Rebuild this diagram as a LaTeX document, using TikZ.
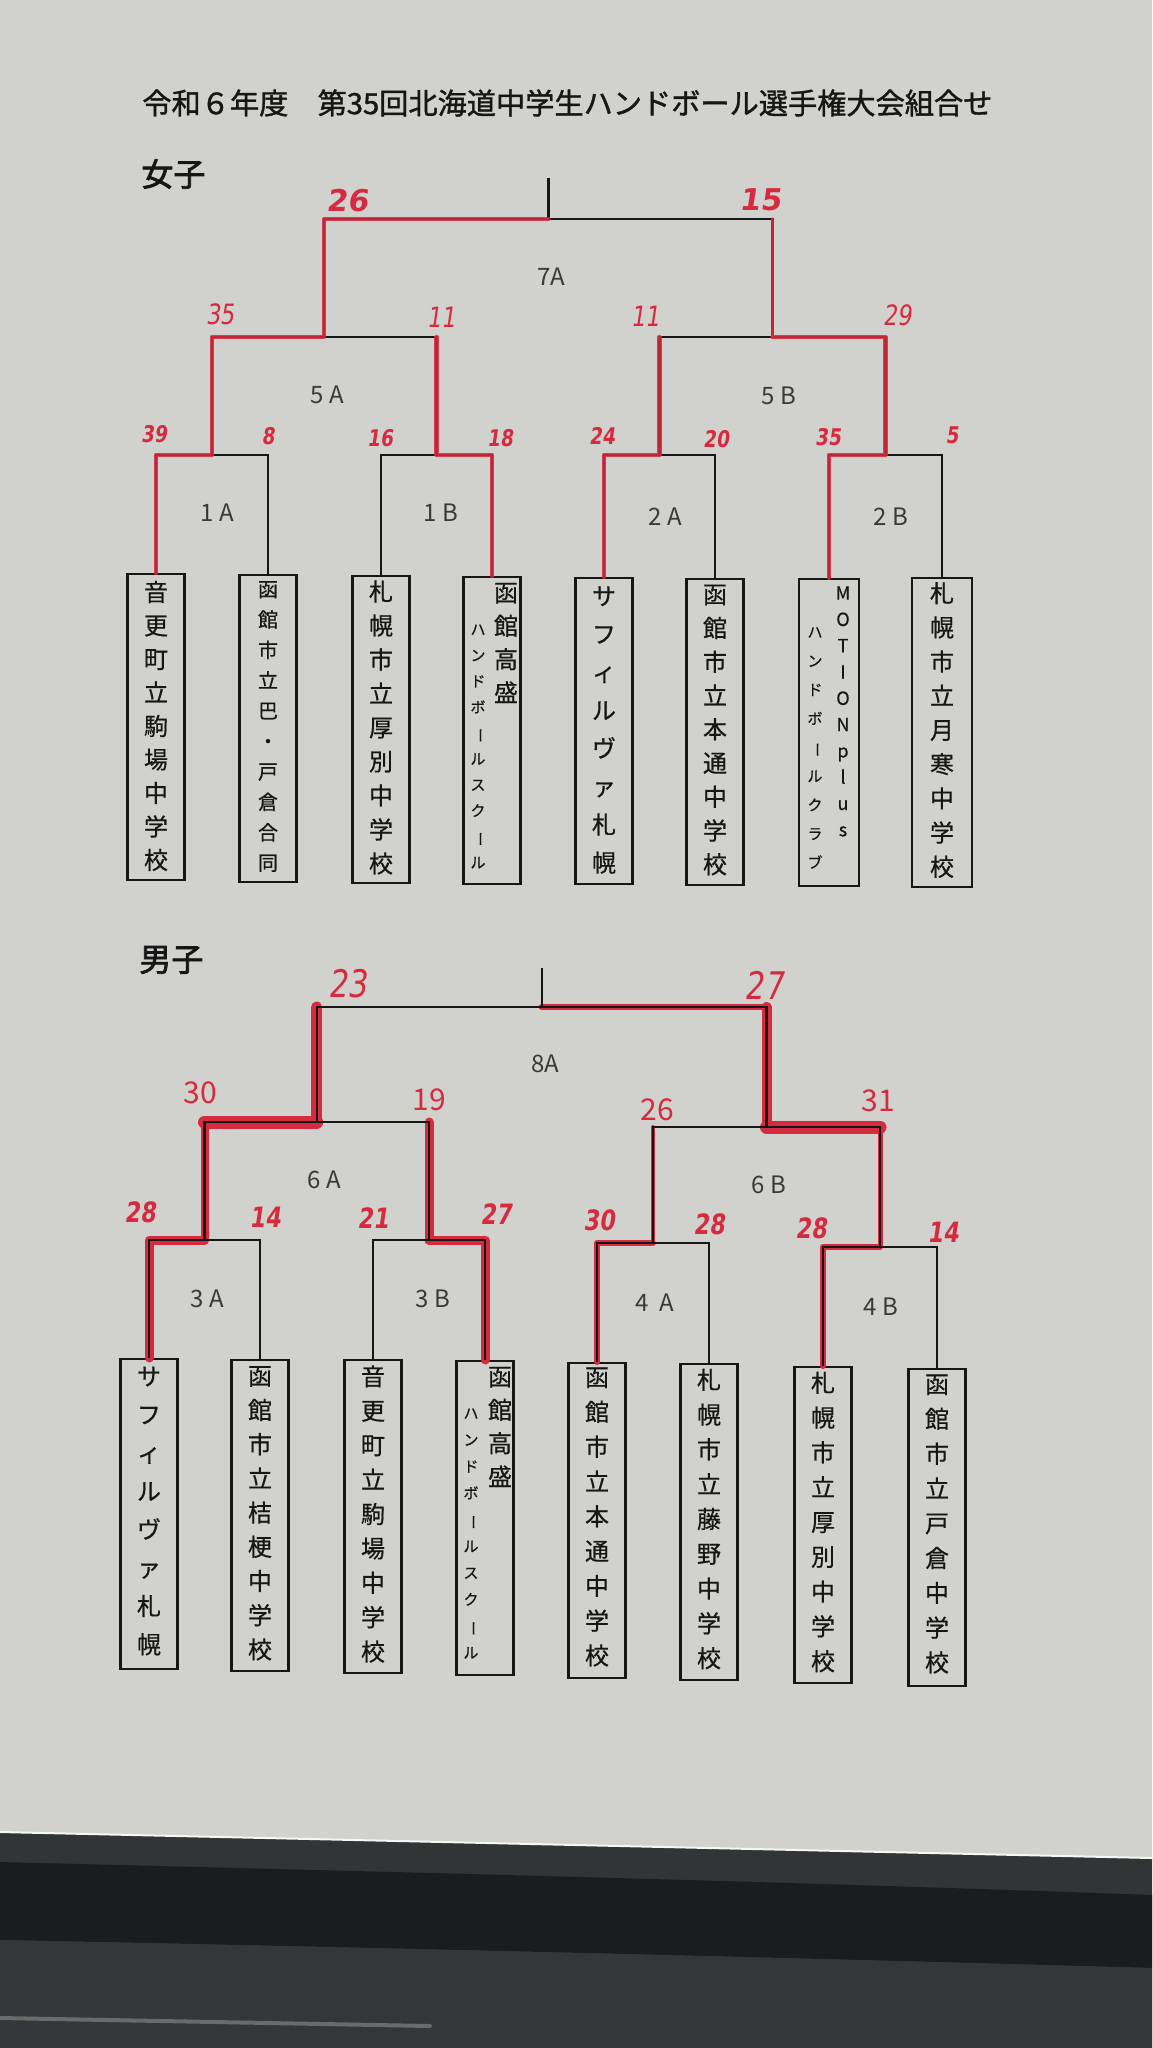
\documentclass[tikz,border=0pt]{standalone}
\usepackage{fontspec}
\usepackage{graphicx}
\newfontfamily\jp{Noto Sans CJK JP}
\newfontfamily\jpm[FakeBold=1.3]{Noto Sans CJK JP}
\newfontfamily\jpb[FakeBold=2.2]{Noto Sans CJK JP}
\newfontfamily\jpt[FakeBold=0.6]{Noto Sans CJK JP}
\newfontfamily\hand[FakeSlant=0.15]{DejaVu Sans}
\newfontfamily\handn[FakeSlant=0.15,FakeStretch=0.8]{DejaVu Sans}
\newcommand{\chonp}{\rotatebox[origin=c]{-90}{ー}}
\definecolor{paper}{RGB}{209,209,206}
\definecolor{pen}{RGB}{214,42,62}
\definecolor{ink}{RGB}{22,22,22}
\definecolor{bandA}{RGB}{50,53,53}
\definecolor{bandB}{RGB}{26,28,29}
\definecolor{bandC}{RGB}{52,55,57}
\tikzset{
  bline/.style={draw=ink, line width=1.1pt},
  redw/.style={draw=pen, line width=2.1pt, line cap=round, line join=round},
  teambox/.style={draw=ink, line width=1.2pt, minimum width=28.5pt, inner sep=0pt, anchor=north},
  vt/.style 2 args={font={\jpt\fontsize{#1}{#2}\selectfont}, align=center, inner sep=0pt, text=ink},
  mlbl/.style={font={\jp\fontsize{12pt}{14pt}\selectfont}, text=ink!85, inner sep=0pt},
  scwt/.style={font={\hand\bfseries\fontsize{15pt}{17pt}\selectfont}, text=pen, inner sep=0pt},
  scwm/.style={font={\handn\fontsize{14pt}{16pt}\selectfont}, text=pen, inner sep=0pt},
  scwb/.style={font={\handn\bfseries\fontsize{11.5pt}{13pt}\selectfont}, text=pen, inner sep=0pt},
  scmt/.style={font={\handn\fontsize{19pt}{21pt}\selectfont}, text=pen, inner sep=0pt},
  scmm/.style={font={\jp\fontsize{15pt}{17pt}\selectfont}, text=pen, inner sep=0pt},
  scmb/.style={font={\handn\bfseries\fontsize{14pt}{16pt}\selectfont}, text=pen, inner sep=0pt},
}
\begin{document}
\begin{tikzpicture}[x=0.5pt,y=-0.5pt]
\useasboundingbox (0,0) rectangle (1152,2048);
% background
\fill[paper] (0,0) rectangle (1152,2048);
\fill[bandA] (0,1832) -- (1152,1858) -- (1152,2048) -- (0,2048) -- cycle;
\fill[bandB] (0,1862) .. controls (400,1872) and (800,1882) .. (1152,1895) -- (1152,1968) .. controls (800,1958) and (400,1948) .. (0,1940) -- cycle;
\fill[bandC] (0,1940) .. controls (400,1948) and (800,1958) .. (1152,1968) -- (1152,2048) -- (0,2048) -- cycle;
\draw[white!80!paper, line width=1pt] (0,1832) -- (1152,1858);
\draw[gray!70!bandC, line width=2pt, line cap=round] (0,2018) -- (430,2026);

% headings
\node[anchor=west, inner sep=0pt, font={\jpm\fontsize{14.6pt}{17pt}\selectfont}, text=ink] (title) at (142,103) {令和６年度　第35回北海道中学生ハンドボール選手権大会組合せ};
\node[anchor=west, inner sep=0pt, font={\jpb\fontsize{16pt}{20pt}\selectfont}, text=ink] (wg) at (141,174) {女子};
\node[anchor=west, inner sep=0pt, font={\jpb\fontsize{16pt}{20pt}\selectfont}, text=ink] (mg) at (139,960) {男子};

% ================= women =================
\node[teambox, minimum height=153pt] (w1) at (156,573) {};
\node[teambox, minimum height=153.5pt] (w2) at (268,574) {};
\node[teambox, minimum height=153.5pt] (w3) at (381,575) {};
\node[teambox, minimum height=153.5pt] (w4) at (492,576) {};
\node[teambox, minimum height=153pt] (w5) at (604,577) {};
\node[teambox, minimum height=153pt] (w6) at (715,578) {};
\node[teambox, minimum height=153.5pt, minimum width=30pt] (w7) at (829,578) {};
\node[teambox, minimum height=154.5pt, minimum width=30pt] (w8) at (942,577) {};

\node[vt={12pt}{16.75pt}] (w1t) at (156,726) {音\\更\\町\\立\\駒\\場\\中\\学\\校};
\node[vt={10pt}{15.2pt}] (w2t) at (268,726.5) {函\\館\\市\\立\\巴\\・\\戸\\倉\\合\\同};
\node[vt={12pt}{17pt}] (w3t) at (381,727.5) {札\\幌\\市\\立\\厚\\別\\中\\学\\校};
\node[vt={12pt}{16.67pt}] (w4ta) at (506,643) {函\\館\\高\\盛};
\node[vt={7.5pt}{12.95pt}] (w4tb) at (478,746.5) {ハ\\ン\\ド\\ボ\\\chonp\\ル\\ス\\ク\\\chonp\\ル};
\node[vt={12pt}{19.05pt}] (w5t) at (604,730) {サ\\フ\\ィ\\ル\\ヴ\\ァ\\札\\幌};
\node[vt={12pt}{16.875pt}] (w6t) at (715,730) {函\\館\\市\\立\\本\\通\\中\\学\\校};
\node[vt={9pt}{13.15pt}] (w7ta) at (843,711.5) {M\\O\\T\\I\\O\\N\\p\\l\\u\\s};
\node[vt={7.5pt}{14.4pt}] (w7tb) at (815,748) {ハ\\ン\\ド\\ボ\\\chonp\\ル\\ク\\ラ\\ブ};
\node[vt={12pt}{17.1pt}] (w8t) at (942,730) {札\\幌\\市\\立\\月\\寒\\中\\学\\校};

\coordinate (w1A) at (212,455);
\coordinate (w1B) at (436.5,455);
\coordinate (w2A) at (659.5,455);
\coordinate (w2B) at (885.5,455);
\coordinate (w5A) at (324.25,337);
\coordinate (w5B) at (772.5,337);
\coordinate (w7A) at (548.4,219);
\coordinate (wtop) at (548.4,178);

% black bracket (women)
\draw[bline] (w1.north) |- (w1A) -| (w2.north);
\draw[bline] (w3.north) |- (w1B) -| (w4.north);
\draw[bline] (w5.north) |- (w2A) -| (w6.north);
\draw[bline] (w7.north) |- (w2B) -| (w8.north);
\draw[bline] (w1A) |- (w5A) -| (w1B);
\draw[bline] (w2A) |- (w5B) -| (w2B);
\draw[bline] (w5A) |- (w7A) -| (w5B);
\draw[bline] (w7A) -- (wtop);

% red (women), marker over the print
\begin{scope}[opacity=0.88]
\draw[redw] (w1.north) |- (w1A) |- (w5A) |- (w7A);
\draw[redw] (w4.north) |- (w1B) -- (w1B |- w5A);
\draw[redw] (w5.north) |- (w2A) -- (w2A |- w5B);
\draw[redw] (w7.north) |- (w2B) |- (w5B);
\draw[redw, line width=1.5pt] (w5B) -- (w5B |- w7A);
\end{scope}

% match labels (women)
\node[mlbl] (wl7A) at (551,277) {7A};
\node[mlbl] (wl5A) at (327,395) {5 A};
\node[mlbl] (wl5B) at (779,396) {5 B};
\node[mlbl] (wl1A) at (217,513) {1 A};
\node[mlbl] (wl1B) at (441,513) {1 B};
\node[mlbl] (wl2A) at (665,517) {2 A};
\node[mlbl] (wl2B) at (891,517) {2 B};

% scores (women)
\node[scwt] (sw7l) at (347,201) {26};
\node[scwt] (sw7r) at (760,200) {15};
\node[scwm] (sw5al) at (220,314) {35};
\node[scwm] (sw5ar) at (441,317) {11};
\node[scwm] (sw5bl) at (645,316) {11};
\node[scwm] (sw5br) at (897,315) {29};
\node[scwb] (sw1al) at (154,434) {39};
\node[scwb] (sw1ar) at (268,436) {8};
\node[scwb] (sw1bl) at (380,438) {16};
\node[scwb] (sw1br) at (500,438) {18};
\node[scwb] (sw2al) at (602,436) {24};
\node[scwb] (sw2ar) at (716,439) {20};
\node[scwb] (sw2bl) at (828,437) {35};
\node[scwb] (sw2br) at (952,435) {5};

% ================= men =================
\node[teambox, minimum height=155pt] (m1) at (149,1358) {};
\node[teambox, minimum height=155.5pt] (m2) at (260,1359) {};
\node[teambox, minimum height=156.5pt] (m3) at (373,1359) {};
\node[teambox, minimum height=157pt] (m4) at (485,1360) {};
\node[teambox, minimum height=157.5pt] (m5) at (597,1362) {};
\node[teambox, minimum height=158pt] (m6) at (709,1363) {};
\node[teambox, minimum height=158pt] (m7) at (823,1366) {};
\node[teambox, minimum height=158.5pt] (m8) at (937,1368) {};

\node[vt={12pt}{19.15pt}] (m1t) at (149,1511) {サ\\フ\\ィ\\ル\\ヴ\\ァ\\札\\幌};
\node[vt={12pt}{17.1pt}] (m2t) at (260,1513.3) {函\\館\\市\\立\\桔\\梗\\中\\学\\校};
\node[vt={12pt}{17.2pt}] (m3t) at (373,1514) {音\\更\\町\\立\\駒\\場\\中\\学\\校};
\node[vt={12pt}{16.67pt}] (m4ta) at (500,1427) {函\\館\\高\\盛};
\node[vt={7.5pt}{13.3pt}] (m4tb) at (471,1533.5) {ハ\\ン\\ド\\ボ\\\chonp\\ル\\ス\\ク\\\chonp\\ル};
\node[vt={12pt}{17.4pt}] (m5t) at (597,1517) {函\\館\\市\\立\\本\\通\\中\\学\\校};
\node[vt={12pt}{17.4pt}] (m6t) at (709,1519) {札\\幌\\市\\立\\藤\\野\\中\\学\\校};
\node[vt={12pt}{17.4pt}] (m7t) at (823,1522) {札\\幌\\市\\立\\厚\\別\\中\\学\\校};
\node[vt={12pt}{17.4pt}] (m8t) at (937,1524) {函\\館\\市\\立\\戸\\倉\\中\\学\\校};

\coordinate (m3A) at (204.5,1240);
\coordinate (m3B) at (429,1240);
\coordinate (m4A) at (653,1243);
\coordinate (m4B) at (880,1247);
\coordinate (m6A) at (316.75,1122);
\coordinate (m6B) at (766.5,1127);
\coordinate (m8A) at (541.6,1007);
\coordinate (mtop) at (541.6,968);

% red (men), broad marker under the print
\draw[redw, line width=4.5pt] (m1.north) |- (m3A);
\draw[redw, line width=4pt] (m3A) -- (m3A |- m6A);
\draw[redw, line width=6.5pt] (m3A |- m6A) -- (m6A);
\draw[redw, line width=5.5pt] (m6A) -- (m6A |- m8A);
\draw[redw, line width=4.5pt] (m4.north) |- (m3B);
\draw[redw, line width=4.5pt] (m3B) -- (m3B |- m6A);
\draw[redw, line width=3pt] (m5.north) |- (m4A);
\draw[redw, line width=2pt] (m4A) -- (m4A |- m6B);
\draw[redw, line width=3pt] (m7.north) |- (m4B);
\draw[redw, line width=2.5pt] (m4B) -- (m4B |- m6B);
\draw[redw, line width=6.5pt] (m4B |- m6B) -- (m6B);
\draw[redw, line width=5pt] (m6B) -- (m6B |- m8A);
\draw[redw, line width=3pt] (m6B |- m8A) -- (m8A);

% black bracket (men)
\draw[bline] (m1.north) |- (m3A) -| (m2.north);
\draw[bline] (m3.north) |- (m3B) -| (m4.north);
\draw[bline] (m5.north) |- (m4A) -| (m6.north);
\draw[bline] (m7.north) |- (m4B) -| (m8.north);
\draw[bline] (m3A) |- (m6A) -| (m3B);
\draw[bline] (m4A) |- (m6B) -| (m4B);
\draw[bline] (m6A) |- (m8A) -| (m6B);
\draw[bline] (m8A) -- (mtop);

% match labels (men)
\node[mlbl] (ml8A) at (545,1064) {8A};
\node[mlbl] (ml6A) at (324,1180) {6 A};
\node[mlbl] (ml6B) at (769,1185) {6 B};
\node[mlbl] (ml3A) at (207,1299) {3 A};
\node[mlbl] (ml3B) at (433,1299) {3 B};
\node[mlbl] (ml4A) at (655,1303) {4\ \ A};
\node[mlbl] (ml4B) at (881,1307) {4 B};

% scores (men)
\node[scmt] (sm8l) at (348,984) {23};
\node[scmt] (sm8r) at (764,985) {27};
\node[scmm] (sm6al) at (200,1093) {30};
\node[scmm] (sm6ar) at (429,1100) {19};
\node[scmm] (sm6bl) at (657,1110) {26};
\node[scmm] (sm6br) at (878,1101) {31};
\node[scmb] (sm3al) at (140,1212) {28};
\node[scmb] (sm3ar) at (265,1217) {14};
\node[scmb] (sm3bl) at (373,1218) {21};
\node[scmb] (sm3br) at (496,1214) {27};
\node[scmb] (sm4al) at (599,1220) {30};
\node[scmb] (sm4ar) at (709,1224) {28};
\node[scmb] (sm4bl) at (811,1228) {28};
\node[scmb] (sm4br) at (943,1232) {14};
\end{tikzpicture}
\end{document}
